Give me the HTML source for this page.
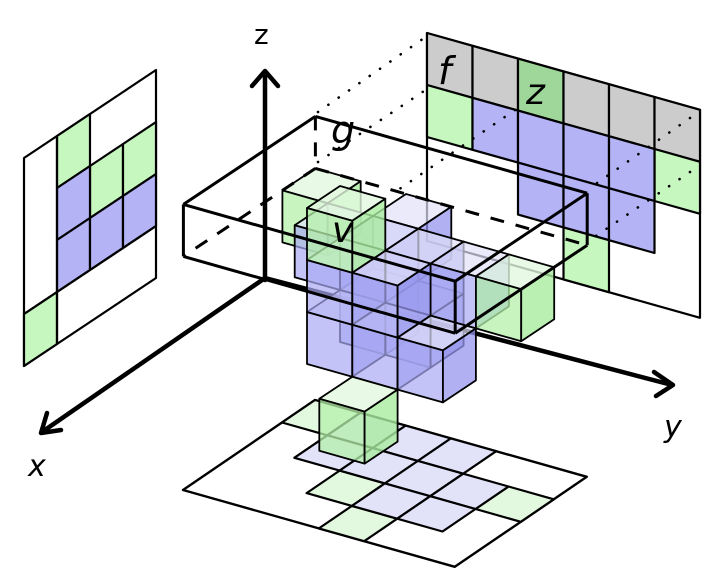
<!DOCTYPE html>
<html><head><meta charset="utf-8">
<style>
html,body{margin:0;padding:0;background:#fff;}
svg{display:block;}
.lab{font-family:"DejaVu Sans","Liberation Sans",sans-serif;fill:#000;}
</style></head>
<body>
<svg id="s" width="720" height="586" viewBox="0 0 720 586" xmlns="http://www.w3.org/2000/svg">
<g id="floor"></g>
<g id="lp"></g>
<g id="rp"></g>
<g id="dots" stroke="#000" stroke-width="2.6" stroke-linecap="round" stroke-dasharray="0.1 12.5" fill="none">
<line x1="318" y1="112" x2="427" y2="36"/>
<line x1="318" y1="162" x2="427" y2="89"/>
<line x1="515" y1="110" x2="395" y2="192"/>
<line x1="690" y1="118" x2="590" y2="188"/>
<line x1="690" y1="172" x2="590" y2="240"/>
</g>
<g id="axes" stroke="#000" stroke-width="4.5" fill="none" stroke-linecap="round" stroke-linejoin="round">
<line x1="265" y1="280" x2="265" y2="72"/>
<polyline points="252,86 265,71 278,86"/>
<line x1="265" y1="278" x2="672" y2="385"/>
<polyline points="654,372 673,385 656,396"/>
<line x1="265" y1="278" x2="42" y2="432"/>
<polyline points="47,413 41,433 61,430"/>
</g>
<g id="cubes"></g>
<g id="box"></g>
<text class="lab" x="254" y="44" font-size="28">z</text>
<text class="lab" x="28" y="476" font-size="30" font-style="italic">x</text>
<text class="lab" x="664" y="437" font-size="30" font-style="italic">y</text>
<text class="lab" x="438" y="84" font-size="38" font-style="italic">f</text>
<text class="lab" x="526" y="104" font-size="36" font-style="italic">z</text>
<text class="lab" x="331" y="143" font-size="38" font-style="italic">g</text>
<text class="lab" x="332" y="242" font-size="36" font-style="italic">v</text>
</svg>
<script>
var NS="http://www.w3.org/2000/svg";
function poly(g,pts,fill,stroke,sw,extra){var p=document.createElementNS(NS,"polygon");p.setAttribute("points",pts.map(function(a){return a[0].toFixed(1)+","+a[1].toFixed(1)}).join(" "));p.setAttribute("fill",fill);p.setAttribute("stroke",stroke);p.setAttribute("stroke-width",sw);p.setAttribute("stroke-linejoin","round");if(extra)for(var k in extra)p.setAttribute(k,extra[k]);document.getElementById(g).appendChild(p);}
function line(g,a,b,sw,dash){var l=document.createElementNS(NS,"line");l.setAttribute("x1",a[0]);l.setAttribute("y1",a[1]);l.setAttribute("x2",b[0]);l.setAttribute("y2",b[1]);l.setAttribute("stroke","#000");l.setAttribute("stroke-width",sw);if(dash)l.setAttribute("stroke-dasharray",dash);document.getElementById(g).appendChild(l);}
var GR="#c6f7be",LV="#b3b3f6",GY="#cccccc",GD="#9fd69a";
// floor
function F(i,j){return [315-33*i+45.3*j,400+22.5*i+12.8*j];}
function fcell(i,j,c){poly("floor",[F(i,j),F(i,j+1),F(i+1,j+1),F(i+1,j)],c,"#000",2.2);}
poly("floor",[F(0,0),F(0,6),F(4,6),F(4,0)],"#fff","#000",2.4);
var FG="#e3f9df",FL="#e2e2f9";
[[0,0],[2,2],[1,5],[3,3]].forEach(function(c){fcell(c[0],c[1],FG);});
[[0,1],[0,2],[0,3],[1,1],[1,2],[1,3],[1,4],[2,3],[2,4]].forEach(function(c){fcell(c[0],c[1],FL);});
// left panel
function L(c,r){return [24+33*c,158-22*c+52*r];}
poly("lp",[L(0,0),L(4,0),L(4,4),L(0,4)],"#fff","#000",2.2);
function lcell(c,r,col){poly("lp",[L(c,r),L(c+1,r),L(c+1,r+1),L(c,r+1)],col,"#000",2.2);}
[[0,3],[1,0],[2,1],[3,1]].forEach(function(a){lcell(a[0],a[1],GR);});
[[1,1],[1,2],[2,2],[3,2]].forEach(function(a){lcell(a[0],a[1],LV);});
line("lp",L(1,0),L(1,4),2.2);line("lp",L(0,3),L(4,3),2.2);
// right panel
function R(j,r){return [427+45.5*j,33+12.8*j+52*r];}
poly("rp",[R(0,0),R(6,0),R(6,4),R(0,4)],"#fff","#000",2.2);
function rcell(j,r,col){poly("rp",[R(j,r),R(j+1,r),R(j+1,r+1),R(j,r+1)],col,"#000",2.2);}
for(var j=0;j<6;j++)rcell(j,0,j==2?GD:GY);
rcell(0,1,GR);rcell(5,1,GR);[1,2,3,4].forEach(function(j){rcell(j,1,LV);});
[2,3,4].forEach(function(j){rcell(j,2,LV);});rcell(3,3,GR);
// cubes
function P(X,Y,Z){return [340-33*X+45.3*Y,238+22*X+12.8*Y-52*Z];}
var cubes=[[0,0,0,"g"],[-2,-2,-1,"g"],[-1,3,-1,"g"],[1,1,-3,"g"],
[-1,-1,-1,"l"],[-1,0,-1,"l"],[-1,1,-1,"l"],[-1,2,-1,"l"],[-2,0,-1,"l"],[0,0,-1,"l"],[0,1,-1,"l"],
[-1,0,-2,"l"],[-1,1,-2,"l"],[0,0,-2,"l"],[0,1,-2,"l"],[0,2,-2,"l"]];
cubes.sort(function(a,b){return (a[0]+a[1]+a[2])-(b[0]+b[1]+b[2])||a[0]-b[0];});
var COL={g:["rgba(226,249,222,0.8)","rgba(180,240,170,0.75)","rgba(170,236,160,0.8)"],
l:["rgba(225,225,250,0.7)","rgba(170,170,244,0.7)","rgba(150,150,238,0.75)"]};
cubes.forEach(function(c){var x=c[0],y=c[1],z=c[2],k=COL[c[3]];
poly("cubes",[P(x,y,z+1),P(x+1,y,z+1),P(x+1,y+1,z+1),P(x,y+1,z+1)],k[0],"#000",1.8);
poly("cubes",[P(x+1,y,z+1),P(x+1,y+1,z+1),P(x+1,y+1,z),P(x+1,y,z)],k[1],"#000",1.8);
poly("cubes",[P(x+1,y+1,z+1),P(x,y+1,z+1),P(x,y+1,z),P(x+1,y+1,z)],k[2],"#000",1.8);});
// box g
var BLT=P(-2,-2,1),FLT=P(2,-2,1),BRT=P(-2,4,1),FRT=P(2,4,1),BLB=P(-2,-2,0),FLB=P(2,-2,0),BRB=P(-2,4,0),FRB=P(2,4,0);
[[BLT,FLT],[BLT,BRT],[FLT,FRT],[BRT,FRT],[FLT,FLB],[FRT,FRB],[BRT,BRB],[FLB,FRB],[FRB,BRB]].forEach(function(e){line("box",e[0],e[1],3);});
[[BLT,BLB],[BLB,FLB],[BLB,BRB]].forEach(function(e){line("box",e[0],e[1],3,"14 12");});
</script>
</body></html>
